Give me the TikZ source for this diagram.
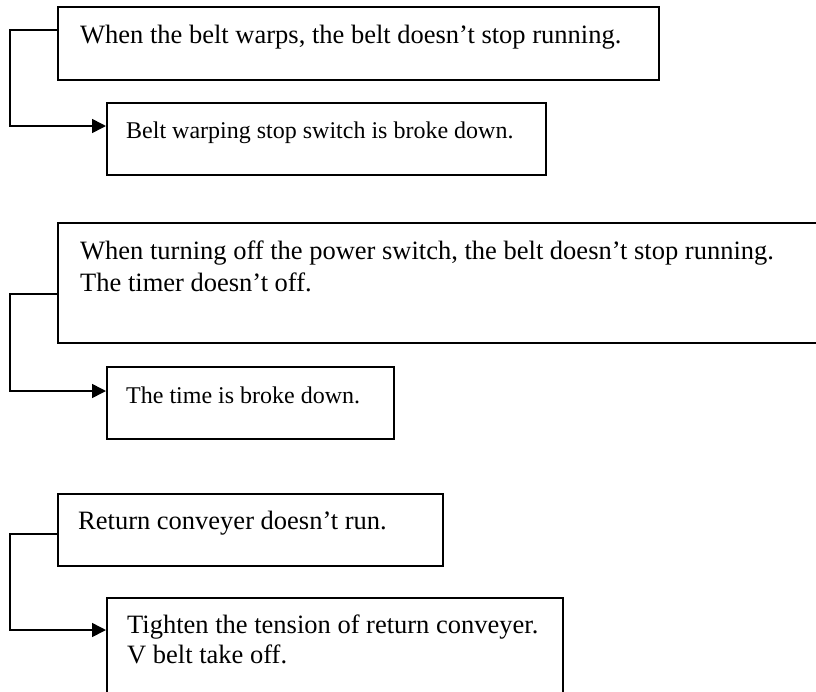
\documentclass[tikz,border=0pt]{standalone}
\usepackage{fontspec}
\setmainfont{Liberation Serif}
\usetikzlibrary{arrows.meta}
\begin{document}
\begin{tikzpicture}[x=1pt,y=-1pt,
  box/.style={draw, line width=1.6pt, rectangle, inner sep=0pt, anchor=north west},
  big/.style={font=\fontsize{26.5}{32}\selectfont, anchor=base west, inner sep=0pt},
  small/.style={font=\fontsize{24}{30}\selectfont, anchor=base west, inner sep=0pt},
  conn/.style={line width=1.6pt, -{Triangle[length=14pt,width=14pt]}}]
\useasboundingbox (0,0) rectangle (816,691);
\clip (0,0) rectangle (816,691);
% boxes
\node[box, minimum width=601pt, minimum height=73pt] (b1) at (57,6) {};
\node[box, minimum width=439pt, minimum height=72pt] (b2) at (106,102) {};
\node[box, minimum width=765pt, minimum height=120pt] (b3) at (57,222) {};
\node[box, minimum width=287pt, minimum height=72pt] (b4) at (106,366) {};
\node[box, minimum width=385pt, minimum height=72pt] (b5) at (57,493) {};
\node[box, minimum width=456pt, minimum height=103pt] (b6) at (106,597) {};
% texts
\node[big] (t1) at (80,43) {When the belt warps, the belt doesn’t stop running.};
\node[small] (t2) at (126,138) {Belt warping stop switch is broke down.};
\node[big] (t3a) at (80,259) {When turning off the power switch, the belt doesn’t stop running.};
\node[big] (t3b) at (80,291) {The timer doesn’t off.};
\node[small] (t4) at (126,403) {The time is broke down.};
\node[big] (t5) at (78,529) {Return conveyer doesn’t run.};
\node[big] (t6a) at (127,633) {Tighten the tension of return conveyer.};
\node[big] (t6b) at (127,663) {V belt take off.};
% connectors
\draw[conn] ([yshift=-24pt]b1.north west) -- ++(-47,0) |- ([yshift=-24pt]b2.north west);
\draw[conn] ([yshift=-72pt]b3.north west) -- ++(-47,0) |- ([yshift=-25pt]b4.north west);
\draw[conn] ([yshift=-41pt]b5.north west) -- ++(-47,0) |- ([yshift=-33pt]b6.north west);
\end{tikzpicture}
\end{document}
